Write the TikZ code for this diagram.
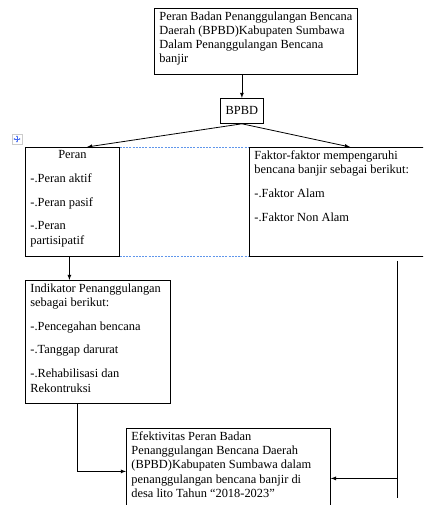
\documentclass[tikz,border=0pt]{standalone}
\usepackage{fontspec}
\setmainfont{Liberation Serif}
\usetikzlibrary{positioning}
\usetikzlibrary{arrows.meta}

\definecolor{garisbiru}{RGB}{95,150,235}

\begin{document}
\begin{tikzpicture}
[x=1pt,y=-1pt,>=latex,line width=0.8pt,
  every node/.style={font=\fontsize{12.4}{14.3}\selectfont},
  kotak/.style={draw,anchor=north west,inner xsep=5pt,inner ysep=3pt},
  grid/.style={garisbiru,line width=0.8pt,dash pattern=on 2pt off 1.2pt}]
\useasboundingbox (0,0) rectangle (423,505);
\clip (0,0) rectangle (423,505);
%% nodes or boxes
\node[kotak] (judul) at (154,8) {\parbox[t][60pt][t]{193pt}{\raggedright
  Peran Badan Penanggulangan Bencana\\
  Daerah (BPBD)Kabupaten Sumbawa\\
  Dalam Penanggulangan Bencana\\
  banjir}};
\node[kotak,minimum width=43pt,minimum height=25pt,inner sep=0pt] (bpbd) at (220,98) {BPBD};
\node[kotak] (peran) at (25,147) {\parbox[t][103pt][t]{84pt}{\raggedright
  \makebox[\linewidth]{Peran}\\[9.5pt]
  -.Peran aktif\\[9.5pt]
  -.Peran pasif\\[9.5pt]
  -.Peran\\
  partisipatif}};
\node[kotak] (faktor) at (249,147) {\parbox[t][103pt][t]{180pt}{\raggedright
  Faktor-faktor mempengaruhi\\
  bencana banjir sebagai berikut:\\[9.5pt]
  -.Faktor Alam\\[9.5pt]
  -.Faktor Non Alam}};
\node[kotak] (indikator) at (25,280) {\parbox[t][117pt][t]{135pt}{\raggedright
  Indikator Penanggulangan\\
  sebagai berikut:\\[9.5pt]
  -.Pencegahan bencana\\[9.5pt]
  -.Tanggap darurat\\[9.5pt]
  -.Rehabilisasi dan\\
  Rekontruksi}};
\node[kotak] (efek) at (126,428) {\parbox[t][80pt][t]{194pt}{\raggedright
  Efektivitas Peran Badan\\
  Penanggulangan Bencana Daerah\\
  (BPBD)Kabupaten Sumbawa dalam\\
  penanggulangan bencana banjir di\\
  desa lito Tahun “2018-2023”}};
%% helper points
\coordinate (pa) at ([xshift=-3pt]peran.south);
\coordinate (ia) at ([xshift=52pt]indikator.south west);
\coordinate (fa) at ([shift={(148,4)}]faktor.south west);
\coordinate (fb) at (397,498);
\coordinate (ea) at ([yshift=-7pt]efek.east);
%% connectors
\draw[->] (judul.south -| bpbd.north) -- (bpbd.north);
\draw[->] (bpbd.south) -- ([xshift=62pt]peran.north west);
\draw[->] (bpbd.south) -- ([xshift=101pt]faktor.north west);
\draw[->] (pa) -- (pa |- indikator.north);
\draw[->] (ia) |- (efek.west);
\draw (fa) -- (fb);
\draw[->] (fa |- ea) -- (ea);
%% table grid lines
\draw[grid] (peran.north east) -- (faktor.north west);
\draw[grid] (peran.south east) -- (faktor.south west);
%% move handle
\draw[gray!40,line width=0.4pt,fill=white] (12,134) rectangle (22,144);
\draw[garisbiru!70!blue,line width=0.5pt,{Latex[length=1.5pt,width=2pt]}-{Latex[length=1.5pt,width=2pt]}] (13.5,139) -- (20.5,139);
\draw[garisbiru!70!blue,line width=0.5pt,{Latex[length=1.5pt,width=2pt]}-{Latex[length=1.5pt,width=2pt]}] (17,135.5) -- (17,142.5);
\end{tikzpicture}
\end{document}
